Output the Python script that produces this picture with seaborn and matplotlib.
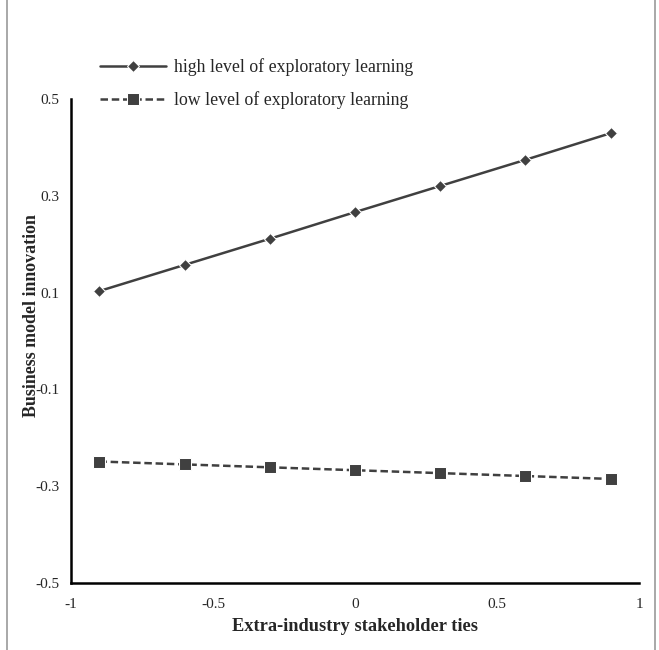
import matplotlib.pyplot as plt
import seaborn as sns
import pandas as pd
from matplotlib.patches import Rectangle

x_vals = [-0.9, -0.6, -0.3, 0.0, 0.3, 0.6, 0.9]
high_vals = [0.103, 0.157, 0.211, 0.266, 0.320, 0.374, 0.429]
low_vals = [-0.249, -0.255, -0.261, -0.267, -0.273, -0.279, -0.285]
series_names = ['high level of exploratory learning', 'low level of exploratory learning']

df = pd.DataFrame({
    'x': x_vals * 2,
    'y': high_vals + low_vals,
    'group': [series_names[0]] * len(x_vals) + [series_names[1]] * len(x_vals),
})

sns.set_style('white')
plt.rcParams['font.family'] = ['Liberation Serif', 'DejaVu Serif']

fig = plt.figure(figsize=(6.59, 6.5), dpi=100)
ax = fig.add_axes([0.1077, 0.103, 0.862, 0.745])

color = '#404040'
sns.lineplot(data=df, x='x', y='y', hue='group', style='group',
             palette=[color, color], markers=['D', 's'],
             dashes=[(None, None), (3, 1.5)], ax=ax, linewidth=1.8,
             legend=False)
ax.lines[0].set_markersize(6)
ax.lines[1].set_markersize(9)
ax.lines[1].set_linestyle((0, (3, 1.5)))

ax.set_xlim(-1, 1)
ax.set_ylim(-0.5, 0.5)
ax.set_xticks([-1, -0.5, 0, 0.5, 1])
ax.set_xticklabels(['-1', '-0.5', '0', '0.5', '1'])
ax.set_yticks([-0.5, -0.3, -0.1, 0.1, 0.3, 0.5])
ax.set_yticklabels(['-0.5', '-0.3', '-0.1', '0.1', '0.3', '0.5'])
ax.tick_params(axis='x', direction='in', length=4, width=1, labelsize=11, pad=11)
ax.tick_params(axis='y', direction='out', length=4, width=1, labelsize=11, pad=4)
for s in ['top', 'right']:
    ax.spines[s].set_visible(False)
for s in ['left', 'bottom']:
    ax.spines[s].set_color('black')
    ax.spines[s].set_linewidth(1.8)

ax.set_xlabel('Extra-industry stakeholder ties', fontsize=13.2, fontweight='bold', labelpad=5)
ax.set_ylabel('Business model innovation', fontsize=12.9, fontweight='bold')
ax.yaxis.set_label_coords(-0.054, 0.552)

handles = ax.lines[:2]
fig.legend(handles, series_names, loc='upper left', bbox_to_anchor=(0.128, 0.935),
           frameon=False, fontsize=12.8, handlelength=3.7, labelspacing=0.85,
           handletextpad=0.45)

fig.patches.append(Rectangle((0.0105, -0.01), 0.983, 1.02, transform=fig.transFigure,
                             fill=False, edgecolor='#9a9a9a', linewidth=1.2))

fig.savefig('out.png', dpi=100)
